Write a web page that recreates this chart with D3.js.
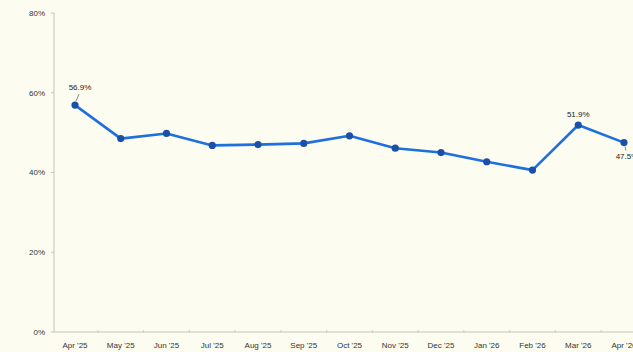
<!DOCTYPE html>
<html>
<head>
<meta charset="utf-8">
<script src="https://cdn.jsdelivr.net/npm/d3@7"></script>
<style>
  html, body { margin: 0; padding: 0; background: #fcfdf0; overflow: hidden; }
  svg { display: block; font-family: "Liberation Sans", Arial, sans-serif; }
</style>
</head>
<body>
<svg id="chart"></svg>
<script>
const months = ["Apr '25", "May '25", "Jun '25", "Jul '25", "Aug '25", "Sep '25", "Oct '25",
                "Nov '25", "Dec '25", "Jan '26", "Feb '26", "Mar '26", "Apr '26"];
const values = [56.9, 48.5, 49.8, 46.8, 47.0, 47.3, 49.2, 46.1, 45.0, 42.7, 40.6, 51.9, 47.5];
const yTicks = [0, 20, 40, 60, 80];
// which points get a value label, and where it sits
const labelled = [
  { i: 0,  dx: 5,  dy: -15, leader: true },
  { i: 11, dx: 0,  dy: -8,  leader: false },
  { i: 12, dx: 3,  dy: 16,  leader: true }
];

const width = 660, height = 352;
const margin = { top: 13, left: 54, bottom: 20 };

const svg = d3.select("#chart").attr("width", width).attr("height", height);

const x = d3.scalePoint().domain(months).range([75, 624]);
const y = d3.scaleLinear().domain([0, 80]).range([332, margin.top]);
const step = x.step();

// y axis
svg.append("line")
  .attr("x1", margin.left).attr("x2", margin.left)
  .attr("y1", y(80)).attr("y2", y(0))
  .attr("stroke", "#c4c4bc").attr("stroke-width", 1);

const yg = svg.append("g");
yg.selectAll("line").data(yTicks).join("line")
  .attr("x1", margin.left - 3).attr("x2", margin.left)
  .attr("y1", d => y(d)).attr("y2", d => y(d))
  .attr("stroke", "#c4c4bc");
yg.selectAll("text").data(yTicks).join("text")
  .attr("x", margin.left - 9)
  .attr("y", d => y(d))
  .attr("dy", "0.35em")
  .attr("text-anchor", "end")
  .attr("font-size", 8)
  .attr("fill", "#333")
  .text(d => d + "%");

// x axis
svg.append("line")
  .attr("x1", margin.left).attr("x2", width)
  .attr("y1", y(0)).attr("y2", y(0))
  .attr("stroke", "#c4c4bc").attr("stroke-width", 1.2);

const bounds = months.map(m => x(m) + step / 2);
svg.append("g").selectAll("line").data(bounds).join("line")
  .attr("x1", d => d).attr("x2", d => d)
  .attr("y1", y(0) - 2).attr("y2", y(0) + 1)
  .attr("stroke", "#d0d0c8");

svg.append("g").selectAll("text").data(months).join("text")
  .attr("x", d => x(d))
  .attr("y", y(0) + 16)
  .attr("text-anchor", "middle")
  .attr("font-size", 8)
  .attr("fill", "#333")
  .text(d => d);

// line + points
const pts = months.map((m, i) => ({ m, v: values[i] }));
const line = d3.line().x(d => x(d.m)).y(d => y(d.v));

svg.append("path")
  .datum(pts)
  .attr("fill", "none")
  .attr("stroke", "#1e6fe0")
  .attr("stroke-width", 2.6)
  .attr("stroke-linejoin", "round")
  .attr("d", line);

svg.append("g").selectAll("circle").data(pts).join("circle")
  .attr("cx", d => x(d.m))
  .attr("cy", d => y(d.v))
  .attr("r", 3.6)
  .attr("fill", "#1b4fa8");

// value labels
const lg = svg.append("g");
labelled.forEach(l => {
  const px = x(months[l.i]), py = y(values[l.i]);
  if (l.leader) {
    const ly = l.dy < 0 ? py - 4 : py + 4;
    const ly2 = l.dy < 0 ? py + l.dy + 4 : py + l.dy - 8;
    lg.append("line")
      .attr("x1", px + 1).attr("y1", ly)
      .attr("x2", px + l.dx - 1).attr("y2", ly2)
      .attr("stroke", "#555").attr("stroke-width", 0.7);
  }
  lg.append("text")
    .attr("x", px + l.dx)
    .attr("y", py + l.dy)
    .attr("text-anchor", "middle")
    .attr("font-size", 8)
    .attr("fill", "#222")
    .text(values[l.i].toFixed(1) + "%");
});
</script>
</body>
</html>
